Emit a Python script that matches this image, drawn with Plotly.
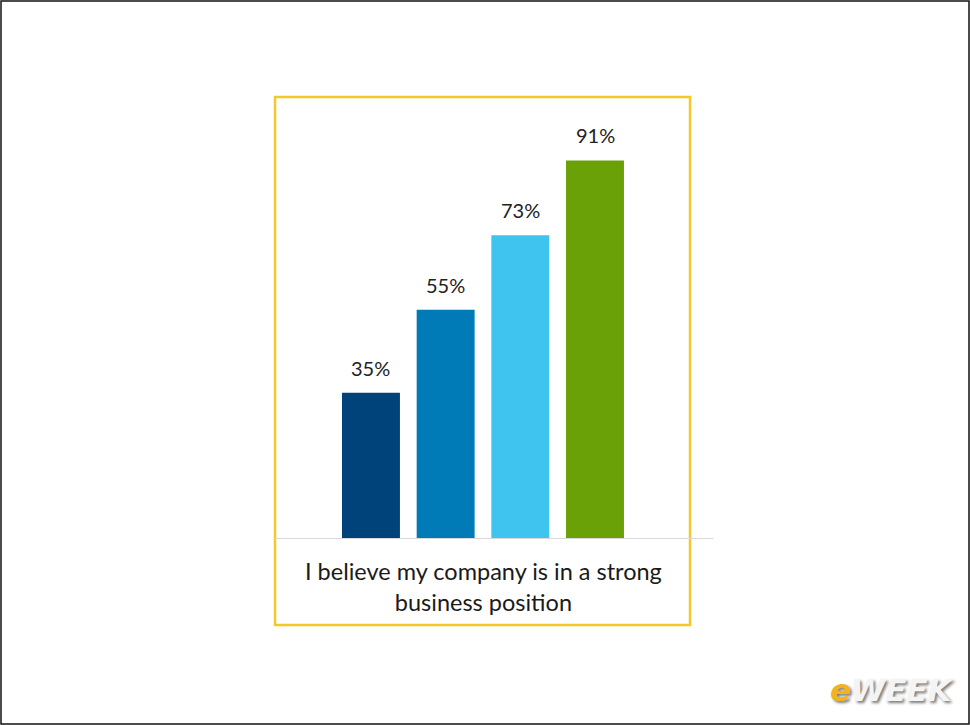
import plotly.graph_objects as go

# survey values (percent agreeing)
groups = ["Group 1", "Group 2", "Group 3", "Group 4"]
values = [35, 55, 73, 91]
labels = ["35%", "55%", "73%", "91%"]
bar_colors = ["#00437A", "#007BB8", "#3EC4EE", "#6AA107"]
statement = "I believe my company is in a strong<br>business position"

fig = go.Figure(go.Bar(
    x=groups, y=values,
    marker=dict(color=bar_colors, line=dict(width=0)),
    width=0.776,
    hoverinfo="skip",
))

# plot area: x 275..713, y 97..538 in pixels
W, H = 970, 725
L, R, T, B = 275, 713, 97, 538


def px(x):
    return (x - L) / (R - L)


def py(y):
    return (B - y) / (B - T)


# value labels above the bars
notes = [
    dict(x=g, y=v, text=t, xref="x", yref="y", showarrow=False,
         yanchor="bottom", yshift=11,
         font=dict(family="Lato", size=20, color="#222222"))
    for g, v, t in zip(groups, values, labels)
]

notes += [
    dict(text=statement, xref="paper", yref="paper",
         x=px(483), y=py(586), showarrow=False,
         font=dict(family="Lato", size=23.5, color="#1A1A1A"),
         align="center", xanchor="center", yanchor="middle"),
    dict(text="<b><i><span style='color:#F2B31B'>e</span>WEEK</i></b>",
         xref="paper", yref="paper", x=px(956), y=py(690),
         showarrow=False, xanchor="right", yanchor="middle",
         font=dict(family="DejaVu Sans", size=31, color="#F4F4F4",
                   shadow="2px 2px 3px #7A7A7A")),
]

fig.update_layout(
    width=W, height=H,
    margin=dict(l=L, r=W - R, t=T, b=H - B, pad=0),
    paper_bgcolor="white", plot_bgcolor="white",
    showlegend=False,
    xaxis=dict(range=[-1.285, 4.58], showticklabels=False, showgrid=False,
               zeroline=False, showline=True, linecolor="#D9D9D9", linewidth=1,
               ticks=""),
    yaxis=dict(range=[0, 106.3], visible=False, showgrid=False),
    shapes=[
        # yellow frame
        dict(type="rect", xref="paper", yref="paper",
             x0=px(275), x1=px(690), y0=py(625), y1=py(97),
             line=dict(color="#F5C829", width=2.5), layer="below"),
        # outer image border
        dict(type="rect", xref="paper", yref="paper",
             x0=px(1), x1=px(969), y0=py(724), y1=py(1),
             line=dict(color="#111111", width=1.5)),
    ],
    annotations=notes,
)

fig.write_html("out.html", config={"displayModeBar": False},
               post_script="document.body.style.margin='0';")
